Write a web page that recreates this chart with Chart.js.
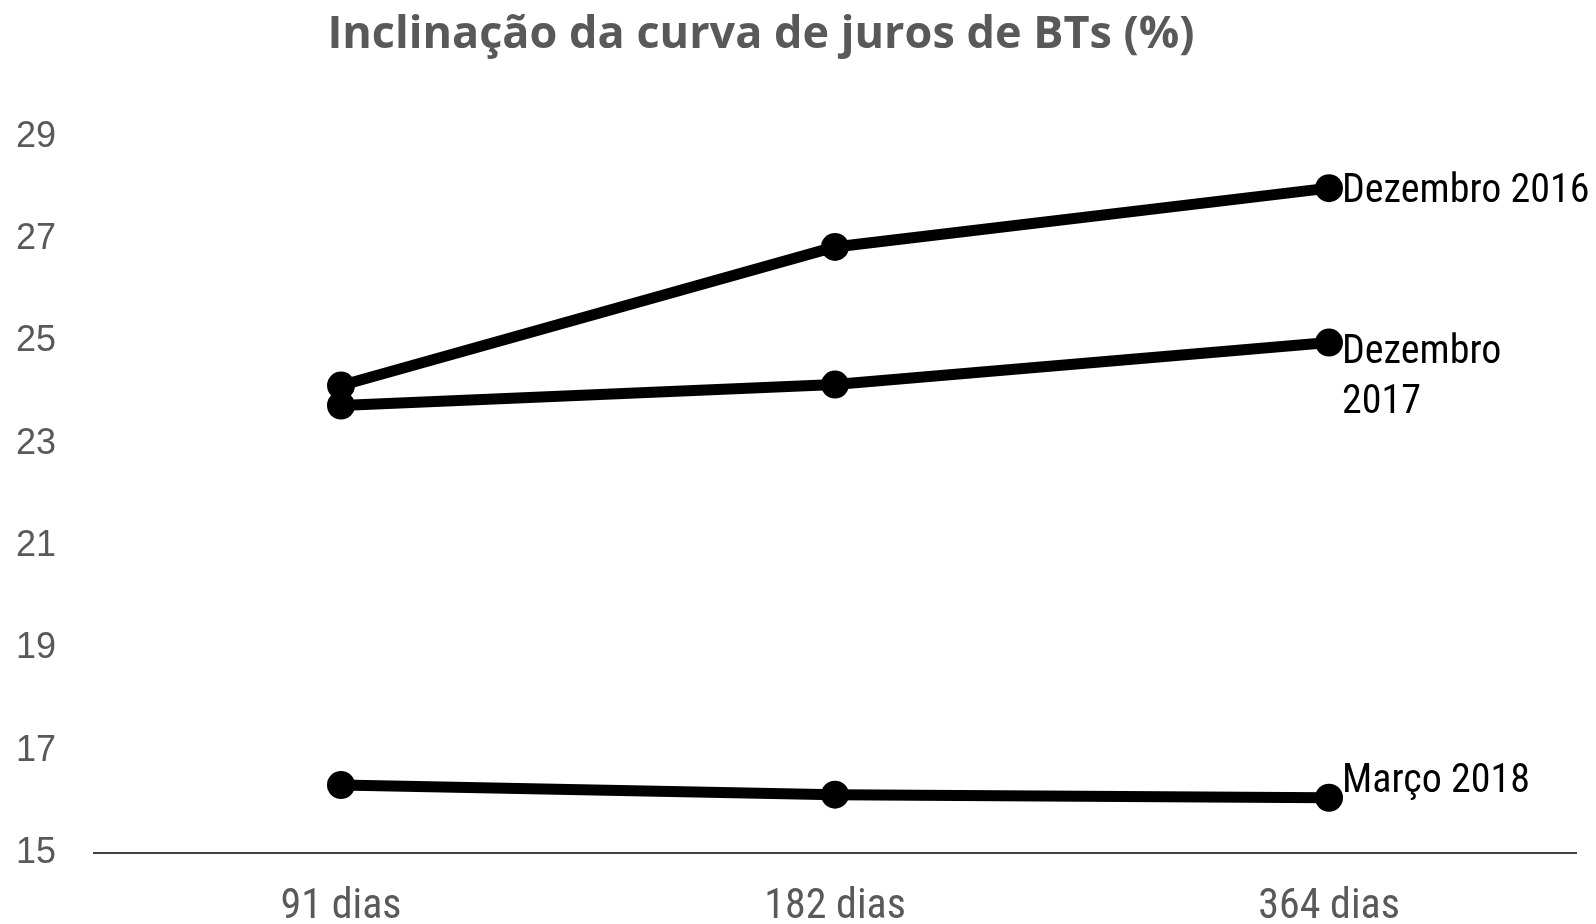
<!DOCTYPE html>
<html>
<head>
<meta charset="utf-8">
<script src="https://cdn.jsdelivr.net/npm/chart.js@4.4.1/dist/chart.umd.min.js"></script>
<style>
  html, body { margin: 0; padding: 0; background: #fff; }
</style>
</head>
<body>
<canvas id="chart" width="1596" height="924"></canvas>
<script>
// dados
const categories = ['91 dias', '182 dias', '364 dias'];
const dez2016 = [24.14, 26.85, 28.0];
const dez2017 = [23.75, 24.16, 24.98];
const mar2018 = [16.33, 16.14, 16.08];
const seriesLabels = [['Dezembro 2016'], ['Dezembro', '2017'], ['Março 2018']];
const labelOffsets = [4, 10, -16];
const yMin = 15, yMax = 29, yStep = 2;
const chartTitle = 'Inclinação da curva de juros de BTs (%)';

const narrow = '"Liberation Sans Narrow", "Arial Narrow", "Roboto Condensed", sans-serif';
const grey = '#595959';

// titulo desenhado à mão (fica deslocado à esquerda no original)
const titlePlugin = {
    id: 'titleText',
    afterDraw(chart) {
        const ctx = chart.ctx;
        ctx.save();
        ctx.font = 'bold 45px "Open Sans", sans-serif';
        ctx.fillStyle = grey;
        ctx.textAlign = 'center';
        ctx.textBaseline = 'middle';
        ctx.fillText(chartTitle, 761, 35);
        ctx.restore();
    }
};

// rótulos das séries junto ao último ponto
const endLabels = {
    id: 'endLabels',
    afterDatasetsDraw(chart) {
        const ctx = chart.ctx;
        ctx.save();
        ctx.font = '40px ' + narrow;
        ctx.fillStyle = '#000';
        ctx.textAlign = 'left';
        ctx.textBaseline = 'middle';
        chart.data.datasets.forEach((ds, i) => {
            const pts = chart.getDatasetMeta(i).data;
            const last = pts[pts.length - 1];
            seriesLabels[i].forEach((line, j) => {
                ctx.fillText(line, last.x + 13, last.y + labelOffsets[i] + j * 50);
            });
        });
        ctx.restore();
    }
};

function lineSet(label, data) {
    return {
        label: label,
        data: data,
        borderColor: '#000',
        backgroundColor: '#000',
        borderWidth: 11,
        pointRadius: 14,
        pointBackgroundColor: '#000',
        pointBorderWidth: 0,
        tension: 0,
        fill: false
    };
}

new Chart(document.getElementById('chart'), {
    type: 'line',
    data: {
        labels: categories,
        datasets: [
            lineSet('Dezembro 2016', dez2016),
            lineSet('Dezembro 2017', dez2017),
            lineSet('Março 2018', mar2018)
        ]
    },
    options: {
        responsive: false,
        animation: false,
        devicePixelRatio: 1,
        layout: { padding: { top: 137, right: 20, bottom: 0, left: 0 } },
        plugins: {
            legend: { display: false },
            title: { display: false },
            tooltip: { enabled: false }
        },
        scales: {
            x: {
                offset: true,
                grid: { display: false, drawTicks: false },
                border: { display: true, color: '#404040', width: 2 },
                ticks: { color: grey, font: { family: narrow, size: 42 }, padding: 29 },
                afterFit(scale) { scale.height = 71; }
            },
            y: {
                min: yMin,
                max: yMax,
                grid: { display: false, drawTicks: false },
                border: { display: false },
                ticks: {
                    stepSize: yStep,
                    color: grey,
                    padding: 38,
                    font: { family: '"Liberation Sans", Arial, sans-serif', size: 36 }
                },
                afterFit(scale) { scale.width = 94; }
            }
        }
    },
    plugins: [titlePlugin, endLabels]
});
</script>
</body>
</html>
